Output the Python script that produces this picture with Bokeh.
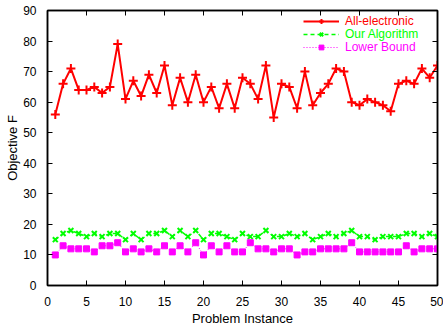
from bokeh.plotting import figure
from bokeh.models import (Range1d, SingleIntervalTicker, LinearAxis, Legend, LegendItem,
                          CustomJSTickFormatter)
from bokeh.embed import file_html
from bokeh.resources import INLINE

instances = list(range(1, 51))
all_electronic = [56, 66, 71, 64, 64, 65, 63, 65, 79, 61,
                  67, 62, 69, 63, 72, 59, 68, 60, 69, 60,
                  65, 58, 66, 58, 68, 66, 61, 72, 55, 66,
                  65, 58, 70, 59, 63, 66, 71, 70, 60, 59,
                  61, 60, 59, 57, 66, 67, 66, 71, 68, 72]
our_algorithm = [15, 17, 18, 17, 16, 17, 16, 17, 17, 15,
                 17, 15, 17, 17, 18, 16, 18, 16, 18, 15,
                 17, 17, 16, 15, 17, 16, 16, 18, 16, 16,
                 17, 16, 17, 15, 16, 17, 16, 17, 18, 16,
                 16, 15, 16, 16, 16, 17, 17, 16, 17, 16]
lower_bound = [10, 13, 12, 12, 12, 11, 13, 13, 14, 11,
               12, 11, 12, 11, 13, 11, 13, 11, 14, 10,
               13, 11, 13, 11, 11, 14, 12, 12, 11, 12,
               12, 10, 11, 11, 12, 12, 12, 12, 14, 11,
               11, 11, 11, 11, 11, 13, 11, 12, 12, 12]
series_names = ["All-electronic", "Our Algorithm", "Lower Bound"]

FONT = "Liberation Sans"

p = figure(width=443, height=329, output_backend="svg", toolbar_location=None,
           x_range=Range1d(0, 50), y_range=Range1d(0, 90),
           min_border_left=47, min_border_right=6, min_border_top=10, min_border_bottom=44)
p.xgrid.visible = False
p.ygrid.visible = False
p.outline_line_color = "black"
p.outline_line_width = 1.5
p.background_fill_color = "white"
p.border_fill_color = "white"

xa = p.xaxis[0]
ya = p.yaxis[0]
xa.ticker = SingleIntervalTicker(interval=5)
ya.ticker = SingleIntervalTicker(interval=10)
for ax in (xa, ya):
    ax.major_tick_in = 5
    ax.major_tick_out = 0
    ax.minor_tick_line_color = None
    ax.axis_line_width = 1.5
    ax.major_label_text_font = FONT
    ax.major_label_text_font_size = "12px"
    ax.major_label_text_color = "black"
    ax.axis_label_text_font = FONT
    ax.axis_label_text_font_size = "13px"
    ax.axis_label_text_font_style = "normal"
    ax.axis_label_text_color = "black"
xa.major_label_standoff = 7
ya.major_label_standoff = 7
xa.axis_label_standoff = 2
ya.axis_label_standoff = 0
xa.axis_label = "Problem Instance"
ya.axis_label = "Objective F"

blank = CustomJSTickFormatter(code="return '';")
top = LinearAxis(ticker=SingleIntervalTicker(interval=5), major_tick_in=5, major_tick_out=0,
                 minor_tick_line_color=None, formatter=blank,
                 major_label_standoff=0, axis_line_width=1.5)
right = LinearAxis(ticker=SingleIntervalTicker(interval=10), major_tick_in=5, major_tick_out=0,
                   minor_tick_line_color=None, formatter=blank,
                   major_label_standoff=0, axis_line_width=1.5)
p.add_layout(top, "above")
p.add_layout(right, "right")

r1l = p.line(instances, all_electronic, line_color="#ff0000", line_width=2)
r1m = p.scatter(instances, all_electronic, marker="cross", size=9, line_color="#ff0000", line_width=2)
r2l = p.line(instances, our_algorithm, line_color="#00ff00", line_width=1.5, line_dash="4 3")
r2m = p.scatter(instances, our_algorithm, marker="x", size=7, line_color="#00ff00", line_width=2)
r3l = p.line(instances, lower_bound, line_color="#ff00ff", line_width=1, line_dash="1 2")
r3m = p.scatter(instances, lower_bound, marker="square", size=6, line_color="#ff00ff",
                fill_color="#ff00ff")

colors = ["#ff0000", "#00ff00", "#ff00ff"]
renders = [[r1l, r1m], [r2l, r2m], [r3l, r3m]]
bottoms = [257, 244, 231]
for name, col, rs, b in zip(series_names, colors, renders, bottoms):
    lg = Legend(items=[LegendItem(label=name, renderers=rs)], location=(256, b),
                padding=0, margin=0, spacing=0, border_line_color=None,
                background_fill_alpha=0, glyph_width=36, glyph_height=12,
                label_height=12, label_standoff=6,
                label_text_font=FONT, label_text_font_size="12px", label_text_color=col)
    p.add_layout(lg, "center")

open("out.html", "w").write(file_html(p, INLINE))
